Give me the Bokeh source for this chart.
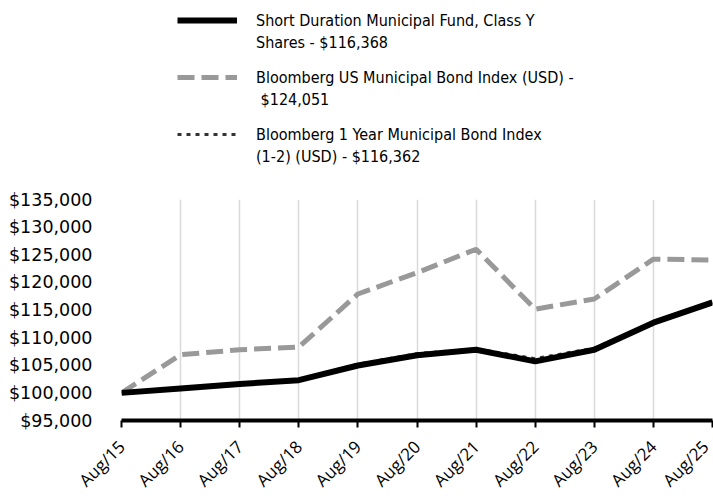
import math
from bokeh.plotting import figure
from bokeh.layouts import column
from bokeh.models import (Range1d, FixedTicker, NumeralTickFormatter, Legend, LegendItem)
from bokeh.embed import file_html
from bokeh.resources import INLINE

periods = ["Aug/15", "Aug/16", "Aug/17", "Aug/18", "Aug/19", "Aug/20",
           "Aug/21", "Aug/22", "Aug/23", "Aug/24", "Aug/25"]
fund = [100000, 100800, 101600, 102300, 104950, 106800, 107800, 105700, 107800, 112700, 116368]
muni = [100000, 106900, 107800, 108300, 117900, 121750, 126000, 115150, 117000, 124200, 124051]
one_year = [100000, 100900, 101700, 102400, 105200, 107100, 107950, 106200, 108100, 112650, 116362]
y_ticks = [95000, 100000, 105000, 110000, 115000, 120000, 125000, 130000, 135000]

names_line1 = ["Short Duration Municipal Fund, Class Y",
               "Bloomberg US Municipal Bond Index (USD) -",
               "Bloomberg 1 Year Municipal Bond Index"]
names_line2 = ["Shares - $116,368",
               " $124,051",
               "(1-2) (USD) - $116,362"]

x = list(range(len(periods)))

STYLES = {
    "muni": dict(line_color="#999999", line_width=5, line_dash="17 7"),
    "one": dict(line_color="#333333", line_width=3, line_dash="4 5"),
    "fund": dict(line_color="#000000", line_width=6),
}

LEG_H = 168
p = figure(width=713, height=502 - LEG_H, output_backend="svg", toolbar_location=None,
           x_range=Range1d(0, len(periods) - 1), y_range=Range1d(y_ticks[0], y_ticks[-1]),
           min_border_left=121, min_border_right=1, min_border_top=199 - LEG_H,
           min_border_bottom=80)
p.outline_line_color = None
p.background_fill_color = "white"

p.line(x, muni, **STYLES["muni"])
p.line(x, one_year, **STYLES["one"])
p.line(x, fund, **STYLES["fund"])

# axes
p.xaxis.ticker = FixedTicker(ticks=x)
p.xaxis.major_label_overrides = {i: s for i, s in enumerate(periods)}
p.xaxis.major_label_orientation = math.pi / 4
p.xaxis.axis_line_color = "black"
p.xaxis.axis_line_width = 4
p.xaxis.major_tick_line_color = "black"
p.xaxis.major_tick_line_width = 2
p.xaxis.major_tick_out = 7
p.xaxis.major_tick_in = 0
p.xaxis.minor_tick_line_color = None
p.xaxis.major_label_text_font = "Open Sans"
p.xaxis.major_label_text_font_size = "17px"
p.xaxis.major_label_text_color = "black"
p.xaxis.major_label_standoff = 16

p.yaxis.ticker = FixedTicker(ticks=y_ticks)
p.yaxis.formatter = NumeralTickFormatter(format="$0,0")
p.yaxis.axis_line_color = None
p.yaxis.major_tick_line_color = None
p.yaxis.minor_tick_line_color = None
p.yaxis.major_tick_out = 0
p.yaxis.major_label_standoff = 29
p.yaxis.major_label_text_font = "DejaVu Sans"
p.yaxis.major_label_text_font_size = "17.5px"
p.yaxis.major_label_text_color = "black"

p.xgrid.grid_line_color = "#D9D9D9"
p.xgrid.grid_line_width = 1.5
p.ygrid.grid_line_color = None

# legend panel: same series, drawn off-screen so only the legend keys show
lg = figure(width=713, height=LEG_H, output_backend="svg", toolbar_location=None,
            x_range=Range1d(0, 1), y_range=Range1d(0, 1),
            min_border=0, min_border_left=0, min_border_right=0,
            min_border_top=0, min_border_bottom=0)
lg.axis.visible = False
lg.grid.visible = False
lg.outline_line_color = None
l_fund = lg.line(x, fund, **STYLES["fund"])
l_muni = lg.line(x, muni, **STYLES["muni"])
l_one = lg.line(x, one_year, **STYLES["one"])
l_blank = lg.line(x, fund, line_alpha=0)

common = dict(orientation="vertical", glyph_width=60, glyph_height=20, label_standoff=19,
              spacing=37, padding=0, margin=0, border_line_color=None,
              background_fill_alpha=0, label_text_font="DejaVu Sans Condensed",
              label_text_font_size="16px", label_text_color="black",
              label_height=20)

legend_a = Legend(items=[LegendItem(label=names_line1[0], renderers=[l_fund]),
                         LegendItem(label=names_line1[1], renderers=[l_muni]),
                         LegendItem(label=names_line1[2], renderers=[l_one])],
                  location=(56, LEG_H - 10 - 134), **common)
legend_b = Legend(items=[LegendItem(label=s, renderers=[l_blank]) for s in names_line2],
                  location=(56, LEG_H - 32 - 134), **common)
lg.add_layout(legend_a, "center")
lg.add_layout(legend_b, "center")

open("out.html", "w").write(file_html(column(lg, p, spacing=0), INLINE))
